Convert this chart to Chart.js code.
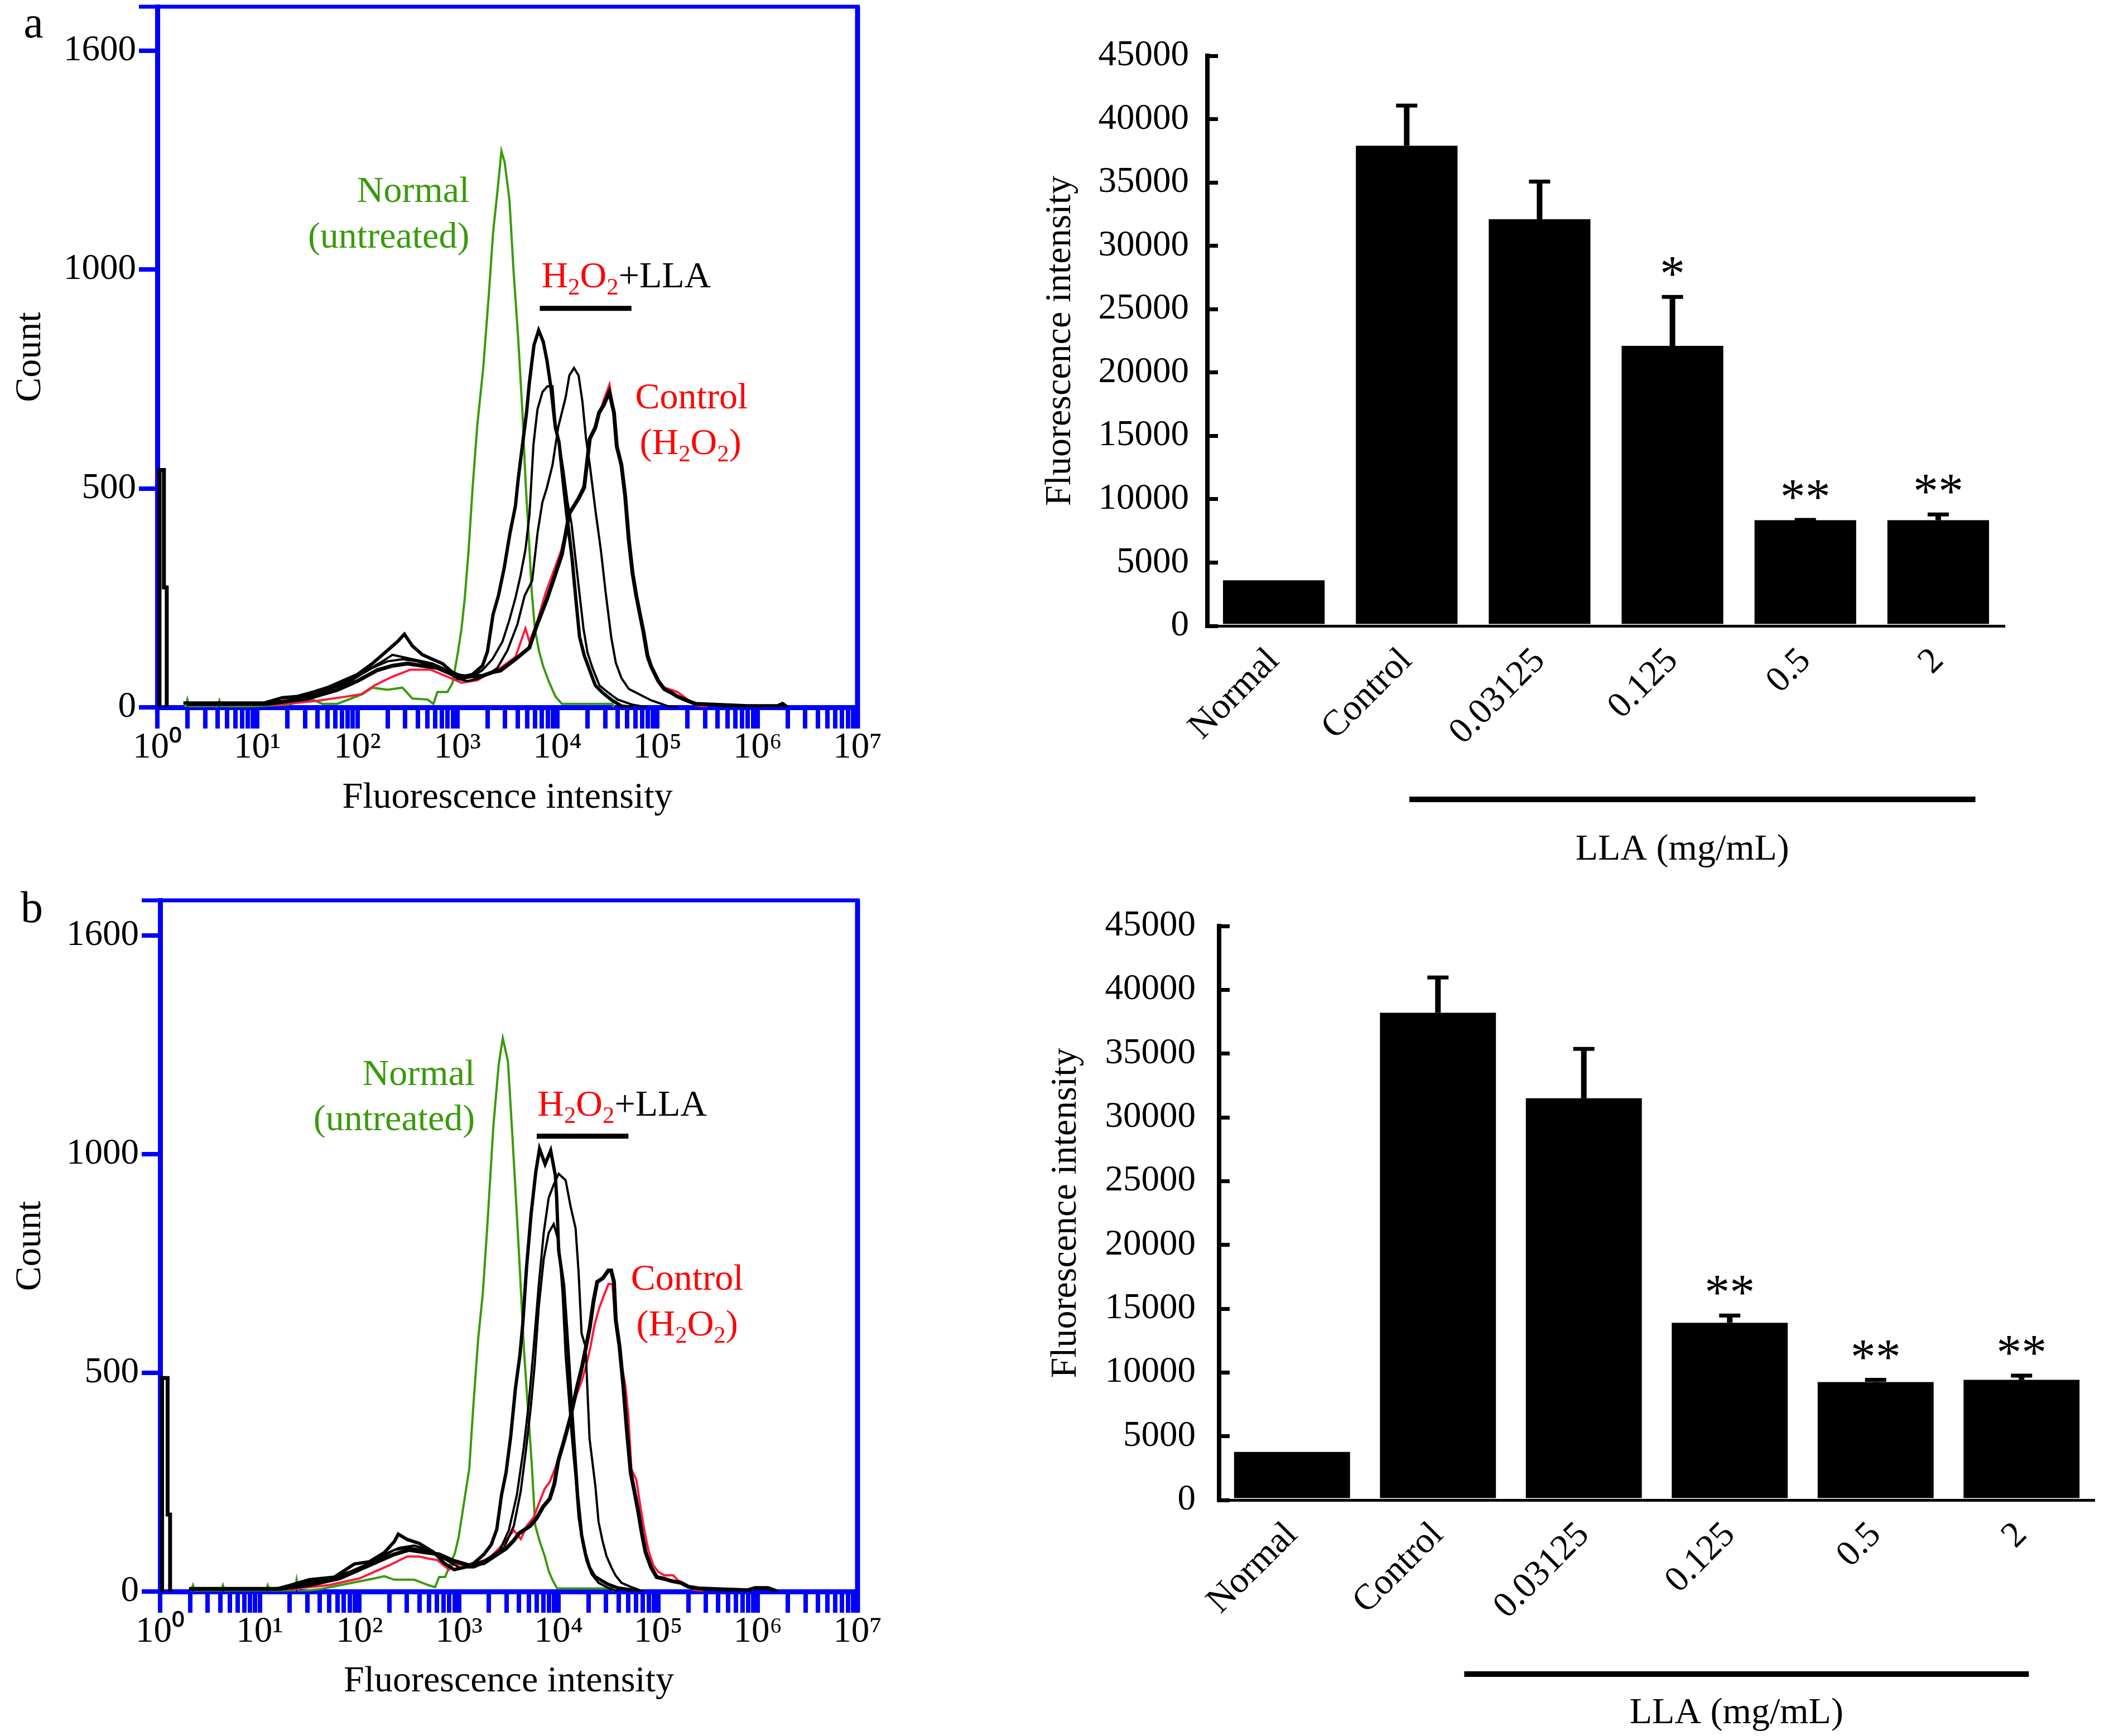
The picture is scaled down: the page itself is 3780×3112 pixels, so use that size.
<!DOCTYPE html>
<html>
<head>
<meta charset="utf-8">
<script src="https://cdn.jsdelivr.net/npm/chart.js@4.4.0/dist/chart.umd.min.js"></script>
<style>
body { margin: 0; background: #fff; width: 3780px; height: 3112px; position: relative; overflow: hidden; }
canvas { position: absolute; }
</style>
</head>
<body>
<canvas id="histA" width="1600" height="1500" style="left:0px;top:0px"></canvas>
<canvas id="barA" width="2080" height="1560" style="left:1700px;top:0px"></canvas>
<canvas id="histB" width="1600" height="1552" style="left:0px;top:1560px"></canvas>
<canvas id="barB" width="2080" height="1552" style="left:1700px;top:1560px"></canvas>
<script>
// ---- histogram axes ----
const decades = [0, 1, 2, 3, 4, 5, 6, 7];
const minorSteps = [2, 3, 4, 5, 6, 7, 8, 9];
const countTickValues = [0, 500, 1000, 1500];
const countTickLabels = ['0', '500', '1000', '1600'];

// ---- panel a histograms (x = log10 fluorescence, y = count) ----
const aSpikeLog = [0.022, 0.022, 0.066, 0.066, 0.094, 0.094];
const aSpikeCount = [0, 542, 542, 274, 274, 0];

const aNormalLog = [0.28, 0.3, 0.32, 0.6, 0.62, 0.64, 1.0, 1.3, 1.55, 1.65, 1.8, 2.05, 2.15, 2.3, 2.45, 2.55, 2.7, 2.76, 2.8, 2.9, 2.95, 3.0, 3.04, 3.074, 3.111, 3.152, 3.198, 3.258, 3.315, 3.356, 3.403, 3.44, 3.472, 3.52, 3.561, 3.607, 3.65, 3.682, 3.715, 3.743, 3.775, 3.817, 3.858, 3.914, 3.979, 4.044, 4.55, 4.56];
const aNormalCount = [0, 18, 0, 0, 15, 0, 3, 6, 18, 8, 8, 30, 45, 40, 45, 20, 18, 8, 35, 35, 55, 119, 178, 251, 357, 502, 643, 775, 946, 1083, 1185, 1270, 1245, 1159, 997, 844, 673, 511, 383, 264, 178, 127, 93, 59, 25, 8, 8, 0];

const aLla1Log = [0.26, 1.07, 1.25, 1.4, 1.56, 1.7, 1.85, 2.0, 2.15, 2.3, 2.4, 2.47, 2.55, 2.65, 2.75, 2.85, 2.95, 3.05, 3.15, 3.25, 3.30, 3.356, 3.41, 3.468, 3.524, 3.58, 3.607, 3.644, 3.691, 3.719, 3.765, 3.812, 3.858, 3.895, 3.933, 3.979, 4.016, 4.063, 4.1, 4.146, 4.184, 4.221, 4.267, 4.323, 4.379, 4.453, 4.546, 4.64, 4.75];
const aLla1Count = [10, 10, 22, 25, 35, 45, 60, 75, 100, 130, 150, 167, 140, 120, 110, 100, 80, 70, 75, 95, 127, 212, 255, 319, 396, 460, 520, 588, 673, 741, 827, 861, 835, 792, 733, 639, 605, 502, 426, 340, 247, 161, 119, 84, 50, 33, 16, 3, 0];

const aLla2Log = [0.3, 1.1, 1.4, 1.7, 1.9, 2.1, 2.25, 2.35, 2.45, 2.55, 2.65, 2.75, 2.85, 2.95, 3.05, 3.15, 3.25, 3.35, 3.45, 3.52, 3.58, 3.63, 3.68, 3.72, 3.76, 3.80, 3.85, 3.90, 3.95, 3.98, 4.02, 4.06, 4.1, 4.14, 4.18, 4.22, 4.26, 4.30, 4.35, 4.42, 4.50, 4.60, 4.75, 4.9];
const aLla2Count = [8, 8, 20, 40, 55, 85, 105, 120, 115, 110, 105, 100, 90, 75, 65, 70, 85, 110, 150, 200, 250, 300, 360, 440, 600, 680, 720, 733, 733, 650, 600, 540, 470, 420, 340, 260, 180, 125, 90, 50, 35, 18, 6, 0];

const aLla3Log = [0.3, 1.2, 1.5, 1.8, 2.0, 2.15, 2.3, 2.45, 2.6, 2.75, 2.9, 3.0, 3.1, 3.2, 3.3, 3.4, 3.5, 3.6, 3.672, 3.747, 3.802, 3.849, 3.895, 3.951, 4.007, 4.081, 4.119, 4.165, 4.211, 4.249, 4.286, 4.323, 4.379, 4.435, 4.481, 4.537, 4.583, 4.639, 4.713, 4.825, 4.937, 5.1, 5.2];
const aLla3Count = [10, 10, 25, 50, 70, 90, 105, 110, 105, 95, 80, 65, 60, 65, 75, 90, 130, 190, 255, 289, 400, 468, 502, 554, 639, 707, 758, 775, 758, 699, 613, 554, 451, 357, 264, 161, 102, 67, 42, 29, 16, 3, 0];

const aLla4Log = [0.3, 1.1, 1.5, 1.8, 2.0, 2.2, 2.35, 2.5, 2.65, 2.8, 2.95, 3.1, 3.25, 3.35, 3.431, 3.579, 3.719, 3.793, 3.895, 3.97, 4.044, 4.119, 4.211, 4.267, 4.323, 4.379, 4.416, 4.462, 4.518, 4.565, 4.593, 4.639, 4.676, 4.713, 4.751, 4.788, 4.825, 4.862, 4.899, 4.937, 4.974, 5.011, 5.067, 5.141, 5.197, 5.29, 5.383, 5.9, 6.2, 6.25, 6.3];
const aLla4Count = [8, 8, 20, 40, 60, 85, 95, 100, 95, 90, 75, 70, 72, 80, 84, 110, 136, 187, 247, 298, 349, 443, 477, 502, 613, 639, 673, 690, 720, 673, 596, 554, 485, 383, 306, 255, 212, 170, 119, 93, 76, 59, 42, 33, 25, 16, 8, 3, 3, 8, 0];

const aControlLog = [0.3, 1.2, 1.6, 1.9, 2.04, 2.17, 2.35, 2.53, 2.73, 2.9, 3.04, 3.2, 3.3, 3.43, 3.58, 3.68, 3.72, 3.79, 3.88, 3.96, 4.04, 4.12, 4.21, 4.27, 4.32, 4.38, 4.42, 4.46, 4.52, 4.56, 4.59, 4.64, 4.68, 4.71, 4.75, 4.79, 4.83, 4.86, 4.9, 4.94, 4.97, 5.01, 5.07, 5.14, 5.2, 5.29, 5.38, 5.5];
const aControlCount = [6, 6, 15, 25, 30, 50, 70, 86, 86, 70, 56, 62, 75, 90, 115, 180, 150, 190, 260, 310, 360, 440, 480, 510, 610, 645, 670, 700, 737, 680, 600, 555, 480, 390, 300, 250, 205, 160, 110, 90, 75, 60, 45, 40, 35, 20, 5, 0];

// ---- panel b histograms ----
const bSpikeLog = [0.02, 0.02, 0.075, 0.075, 0.1, 0.1];
const bSpikeCount = [0, 488, 488, 176, 176, 0];

const bNormalLog = [0.31, 0.33, 0.35, 0.61, 0.63, 0.65, 1.06, 1.08, 1.1, 1.35, 1.37, 1.39, 1.6, 2.15, 2.25, 2.35, 2.55, 2.7, 2.76, 2.8, 2.86, 2.96, 2.996, 3.056, 3.103, 3.14, 3.192, 3.239, 3.286, 3.345, 3.398, 3.439, 3.491, 3.532, 3.569, 3.607, 3.65, 3.691, 3.728, 3.765, 3.808, 3.86, 3.901, 3.943, 3.985, 4.536, 4.55];
const bNormalCount = [0, 14, 0, 0, 14, 0, 0, 14, 0, 0, 27, 0, 5, 30, 35, 27, 27, 14, 10, 33, 33, 89, 124, 212, 281, 412, 577, 682, 843, 1065, 1204, 1265, 1212, 1056, 908, 751, 560, 420, 299, 151, 116, 81, 46, 24, 7, 7, 0];

const bLla1Log = [0.29, 1.17, 1.3, 1.5, 1.75, 1.95, 2.1, 2.25, 2.35, 2.39, 2.48, 2.6, 2.75, 2.85, 2.95, 3.05, 3.15, 3.25, 3.323, 3.379, 3.426, 3.472, 3.519, 3.566, 3.612, 3.64, 3.678, 3.724, 3.771, 3.808, 3.864, 3.92, 3.967, 3.98, 4.0, 4.05, 4.08, 4.1, 4.13, 4.16, 4.19, 4.23, 4.27, 4.31, 4.36, 4.43, 4.5, 4.6, 4.75, 4.85];
const bLla1Count = [6, 6, 14, 27, 33, 63, 68, 89, 114, 131, 119, 110, 89, 65, 50, 55, 65, 85, 107, 142, 220, 272, 355, 464, 542, 612, 742, 864, 960, 1012, 977, 1008, 951, 900, 780, 700, 600, 530, 420, 320, 220, 130, 85, 55, 35, 25, 16, 8, 3, 0];

const bLla2Log = [0.3, 1.2, 1.45, 1.7, 1.9, 2.1, 2.25, 2.4, 2.55, 2.7, 2.85, 3.0, 3.15, 3.3, 3.4, 3.5, 3.58, 3.65, 3.7, 3.75, 3.8, 3.85, 3.9, 3.95, 4.0, 4.07, 4.12, 4.17, 4.2, 4.23, 4.27, 4.29, 4.31, 4.37, 4.4, 4.44, 4.48, 4.53, 4.57, 4.63, 4.72, 4.85];
const bLla2Count = [6, 6, 20, 30, 45, 65, 85, 100, 105, 95, 75, 55, 55, 70, 90, 140, 220, 330, 430, 560, 700, 820, 900, 930, 955, 940, 880, 830, 730, 590, 560, 455, 350, 238, 160, 116, 81, 55, 37, 20, 11, 0];

const bLla3Log = [0.3, 1.25, 1.5, 1.8, 2.0, 2.2, 2.35, 2.5, 2.65, 2.8, 2.95, 3.1, 3.25, 3.35, 3.45, 3.55, 3.62, 3.67, 3.72, 3.76, 3.8, 3.85, 3.9, 3.95, 4.0, 4.04, 4.07, 4.1, 4.13, 4.17, 4.2, 4.24, 4.28, 4.33, 4.4, 4.5, 4.6];
const bLla3Count = [6, 6, 15, 30, 50, 75, 95, 100, 95, 85, 70, 60, 70, 85, 100, 150, 230, 320, 420, 520, 650, 760, 820, 840, 800, 680, 540, 450, 360, 260, 170, 110, 70, 40, 20, 8, 0];

const bLla4Log = [0.3, 1.2, 1.5, 1.8, 2.0, 2.2, 2.35, 2.5, 2.65, 2.8, 2.95, 3.1, 3.25, 3.35, 3.472, 3.547, 3.603, 3.715, 3.78, 3.845, 3.911, 3.957, 3.995, 4.051, 4.12, 4.181, 4.237, 4.312, 4.35, 4.387, 4.443, 4.499, 4.527, 4.555, 4.573, 4.611, 4.648, 4.685, 4.723, 4.76, 4.797, 4.835, 4.872, 4.928, 4.984, 5.059, 5.133, 5.227, 5.301, 5.41, 5.9, 5.97, 6.1, 6.2];
const bLla4Count = [6, 6, 15, 30, 50, 70, 85, 95, 90, 85, 70, 60, 65, 80, 98, 116, 133, 150, 168, 194, 212, 246, 298, 342, 400, 464, 516, 603, 664, 708, 716, 734, 734, 708, 621, 560, 473, 368, 272, 229, 185, 133, 90, 55, 33, 29, 24, 20, 11, 7, 3, 8, 8, 0];

const bControlLog = [0.3, 1.3, 1.7, 2.0, 2.3, 2.48, 2.6, 2.7, 2.78, 2.9, 2.94, 3.1, 3.3, 3.45, 3.55, 3.62, 3.68, 3.75, 3.8, 3.86, 3.91, 3.97, 4.02, 4.07, 4.12, 4.18, 4.23, 4.28, 4.32, 4.36, 4.41, 4.46, 4.5, 4.54, 4.56, 4.59, 4.63, 4.67, 4.7, 4.73, 4.78, 4.82, 4.86, 4.9, 4.95, 5.0, 5.06, 5.15, 5.2, 5.28, 5.35, 5.45];
const bControlCount = [5, 5, 15, 30, 60, 80, 80, 75, 72, 50, 63, 60, 75, 110, 140, 120, 150, 170, 200, 235, 250, 285, 315, 350, 400, 450, 480, 520, 560, 610, 650, 680, 703, 703, 640, 590, 520, 470, 400, 280, 255, 195, 140, 95, 60, 45, 37, 37, 25, 16, 5, 0];

// ---- bar charts ----
const barCategories = ['Normal', 'Control', '0.03125', '0.125', '0.5', '2'];
const aBarMean = [3600, 37900, 32100, 22100, 8340, 8340];
const aBarSD = [0, 3300, 3100, 4000, 160, 590];
const aMarks = ['', '', '', '*', '**', '**'];
const bBarMean = [3770, 38200, 31500, 13900, 9250, 9420];
const bBarSD = [0, 2900, 4000, 700, 300, 460];
const bMarks = ['', '', '', '**', '**', '**'];

const SERIF = "'Liberation Serif', 'Times New Roman', serif";
const BLUE = '#0000ff';
const GREEN = '#3a9a0b';
const RED = '#ff0000';
const SUP = {'0': '\u2070', '1': '\u00b9', '2': '\u00b2', '3': '\u00b3', '4': '\u2074', '5': '\u2075', '6': '\u2076', '7': '\u2077'};

function curve(logs, counts, color, width) {
    return {
        data: logs.map((l, i) => ({x: Math.pow(10, l), y: counts[i]})),
        borderColor: color, borderWidth: width, pointRadius: 0, fill: false, tension: 0
    };
}

// text runs: [text, color, isSubscript]
function drawRuns(ctx, runs, x, y, align, size) {
    let w = 0;
    runs.forEach(r => { ctx.font = (r[2] ? size * 0.65 : size) + 'px ' + SERIF; w += ctx.measureText(r[0]).width; });
    let cx = align === 'right' ? x - w : align === 'center' ? x - w / 2 : x;
    ctx.textAlign = 'left';
    ctx.textBaseline = 'alphabetic';
    const base = y + size * 0.33;
    runs.forEach(r => {
        ctx.font = (r[2] ? size * 0.65 : size) + 'px ' + SERIF;
        ctx.fillStyle = r[1];
        ctx.fillText(r[0], cx, r[2] ? base + size * 0.2 : base);
        cx += ctx.measureText(r[0]).width;
    });
}

const histDecor = {
    id: 'histDecor',
    afterDraw(chart, args, opts) {
        const {ctx, chartArea: a, scales: {x, y}} = chart;
        ctx.save();
        ctx.strokeStyle = BLUE;
        ctx.lineCap = 'butt';
        ctx.lineWidth = 7;
        ctx.beginPath(); ctx.moveTo(a.left - 33, a.top); ctx.lineTo(a.right + 4, a.top); ctx.stroke();
        ctx.lineWidth = 9;
        ctx.beginPath(); ctx.moveTo(a.right, a.top); ctx.lineTo(a.right, a.bottom + 38); ctx.stroke();
        opts.labels.forEach(l => drawRuns(ctx, l.runs, x.getPixelForValue(Math.pow(10, l.at[0])), y.getPixelForValue(l.at[1]), l.align, 66));
        const b = opts.bar;
        ctx.strokeStyle = '#000';
        ctx.lineWidth = 9;
        ctx.beginPath();
        ctx.moveTo(x.getPixelForValue(Math.pow(10, b[0])), y.getPixelForValue(b[2]));
        ctx.lineTo(x.getPixelForValue(Math.pow(10, b[1])), y.getPixelForValue(b[2]));
        ctx.stroke();
        ctx.fillStyle = '#000';
        ctx.font = '80px ' + SERIF;
        ctx.textAlign = 'center';
        ctx.textBaseline = 'alphabetic';
        ctx.fillText(opts.letter[0], opts.letter[1], opts.letter[2]);
        ctx.restore();
    }
};

function histChart(id, sets, yMax, pad, yWidth, xHeight, titlePad, decor) {
    const xTicks = [];
    decades.forEach(e => {
        xTicks.push(Math.pow(10, e));
        if (e < 7) minorSteps.forEach(k => xTicks.push(k * Math.pow(10, e)));
    });
    return new Chart(document.getElementById(id), {
        type: 'line',
        data: {datasets: sets},
        options: {
            responsive: false, animation: false, devicePixelRatio: 1,
            layout: {padding: pad},
            plugins: {legend: {display: false}, tooltip: {enabled: false}, histDecor: decor},
            scales: {
                x: {
                    type: 'logarithmic', min: 1, max: 1e7, z: 1,
                    afterBuildTicks: s => { s.ticks = xTicks.map(v => ({value: v})); },
                    afterFit: s => { s.height = xHeight; s.paddingLeft = 0; s.paddingRight = 0; },
                    ticks: {
                        autoSkip: false, maxRotation: 0, color: '#000', padding: 2,
                        font: {family: SERIF, size: 65, lineHeight: 1},
                        callback: v => {
                            const e = Math.log10(v);
                            return Math.abs(e - Math.round(e)) < 1e-6 ? '10' + SUP[String(Math.round(e))] : '';
                        }
                    },
                    grid: {drawOnChartArea: false, drawTicks: true, tickLength: 38, color: BLUE, lineWidth: 8},
                    border: {color: BLUE, width: 9},
                    title: {display: true, text: 'Fluorescence intensity', color: '#000', font: {family: SERIF, size: 66}, padding: {top: 0, bottom: titlePad}}
                },
                y: {
                    min: 0, max: yMax, z: 1,
                    afterBuildTicks: s => { s.ticks = countTickValues.map(v => ({value: v})); },
                    afterFit: s => { s.width = yWidth; s.paddingTop = 0; s.paddingBottom = 0; },
                    ticks: {color: '#000', padding: 5, font: {family: SERIF, size: 65}, callback: (v, i) => countTickLabels[i]},
                    grid: {drawOnChartArea: false, drawTicks: true, tickLength: 33, color: BLUE, lineWidth: 8},
                    border: {color: BLUE, width: 9},
                    title: {display: true, text: 'Count', color: '#000', font: {family: SERIF, size: 66}, padding: {top: 15, bottom: 0}}
                }
            }
        },
        plugins: [histDecor]
    });
}

const barDecor = {
    id: 'barDecor',
    afterDatasetsDraw(chart, args, opts) {
        const {ctx, chartArea: a, scales: {x, y}} = chart;
        const meta = chart.getDatasetMeta(0);
        ctx.save();
        ctx.strokeStyle = '#000';
        ctx.fillStyle = '#000';
        opts.mean.forEach((m, i) => {
            const bx = meta.data[i].x;
            const top = y.getPixelForValue(m + opts.sd[i]);
            if (opts.sd[i] > 0) {
                ctx.lineWidth = 10;
                ctx.beginPath(); ctx.moveTo(bx, y.getPixelForValue(m)); ctx.lineTo(bx, top); ctx.stroke();
                ctx.lineWidth = 7;
                ctx.beginPath(); ctx.moveTo(bx - 19, top + 3); ctx.lineTo(bx + 19, top + 3); ctx.stroke();
            }
            if (opts.marks[i]) {
                ctx.font = '90px ' + SERIF;
                ctx.textAlign = 'center';
                ctx.textBaseline = 'alphabetic';
                ctx.fillText(opts.marks[i], bx, top - 53 + 45);
            }
        });
        const cw = (x.right - x.left) / barCategories.length;
        const x1 = x.getPixelForValue(1) + opts.from * cw;
        const x2 = x.getPixelForValue(5) + opts.to * cw;
        const ly = a.bottom + opts.lineDy;
        ctx.lineWidth = 10;
        ctx.beginPath(); ctx.moveTo(x1, ly); ctx.lineTo(x2, ly); ctx.stroke();
        ctx.font = '66px ' + SERIF;
        ctx.textAlign = 'center';
        ctx.textBaseline = 'middle';
        ctx.fillText('LLA (mg/mL)', (x1 + x2) / 2 - 18, ly + opts.textDy);
        ctx.restore();
    }
};

function barChart(id, mean, sd, marks, pad, yWidth, xHeight, barPct, labelPad, titlePad, decor) {
    return new Chart(document.getElementById(id), {
        type: 'bar',
        data: {labels: barCategories, datasets: [{data: mean, backgroundColor: '#000', barPercentage: barPct, categoryPercentage: 1}]},
        options: {
            responsive: false, animation: false, devicePixelRatio: 1,
            layout: {padding: pad},
            plugins: {legend: {display: false}, tooltip: {enabled: false},
                barDecor: Object.assign({mean: mean, sd: sd, marks: marks}, decor)},
            scales: {
                x: {
                    afterFit: s => { s.height = xHeight; },
                    ticks: {color: '#000', minRotation: 45, maxRotation: 45, autoSkip: false, padding: 25, font: {family: SERIF, size: 65}},
                    grid: {display: false, drawTicks: false},
                    border: {color: '#000', width: 5}
                },
                y: {
                    min: 0, max: 45000,
                    afterFit: s => { s.width = yWidth; },
                    ticks: {stepSize: 5000, color: '#000', padding: labelPad, font: {family: SERIF, size: 65}, callback: v => String(v)},
                    grid: {drawOnChartArea: false, drawTicks: true, tickLength: -19, color: '#000', lineWidth: 7},
                    border: {color: '#000', width: 8},
                    title: {display: true, text: 'Fluorescence intensity', color: '#000', font: {family: SERIF, size: 66}, padding: {top: titlePad, bottom: 0}}
                }
            }
        },
        plugins: [barDecor]
    });
}

function histSets(spL, spC, l1, c1, l2, c2, l3, c3, l4, c4, ctL, ctC, nL, nC) {
    return [
        curve(spL, spC, '#000', 7),
        curve(l1, c1, '#000', 6),
        curve(l2, c2, '#000', 4),
        curve(l3, c3, '#000', 4),
        curve(l4, c4, '#000', 7),
        curve(ctL, ctC, '#ff1a3c', 4),
        curve(nL, nC, GREEN, 4)
    ];
}

const h2o2Runs = [['H', RED], ['2', RED, true], ['O', RED], ['2', RED, true], ['+LLA', '#000']];
const ctrlRuns = [['(H', RED], ['2', RED, true], ['O', RED], ['2', RED, true], [')', RED]];

histChart('histA',
    histSets(aSpikeLog, aSpikeCount, aLla1Log, aLla1Count, aLla2Log, aLla2Count, aLla3Log, aLla3Count, aLla4Log, aLla4Count, aControlLog, aControlCount, aNormalLog, aNormalCount),
    1600, {top: 12, right: 63, left: 0, bottom: 0}, 282, 232, 30,
    {
        labels: [
            {runs: [['Normal', GREEN]], at: [3.12, 1182], align: 'right'},
            {runs: [['(untreated)', GREEN]], at: [3.12, 1078], align: 'right'},
            {runs: h2o2Runs, at: [3.84, 987], align: 'left'},
            {runs: [['Control', RED]], at: [5.34, 710], align: 'center'},
            {runs: ctrlRuns, at: [5.33, 606], align: 'center'}
        ],
        bar: [3.823, 4.74, 911],
        letter: ['a', 60, 67]
    });

histChart('histB',
    histSets(bSpikeLog, bSpikeCount, bLla1Log, bLla1Count, bLla2Log, bLla2Count, bLla3Log, bLla3Count, bLla4Log, bLla4Count, bControlLog, bControlCount, bNormalLog, bNormalCount),
    1580, {top: 54, right: 63, left: 0, bottom: 0}, 287, 259, 58,
    {
        labels: [
            {runs: [['Normal', GREEN]], at: [3.16, 1186], align: 'right'},
            {runs: [['(untreated)', GREEN]], at: [3.16, 1082], align: 'right'},
            {runs: h2o2Runs, at: [3.787, 1116], align: 'left'},
            {runs: [['Control', RED]], at: [5.29, 718], align: 'center'},
            {runs: ctrlRuns, at: [5.29, 613], align: 'center'}
        ],
        bar: [3.78, 4.70, 1041],
        letter: ['b', 57, 93]
    });

barChart('barA', aBarMean, aBarSD, aMarks, {top: 100, right: 187, left: 0, bottom: 0}, 464, 438, 0.765, 52, 161,
    {from: 0.02, to: 0.28, lineDy: 311, textDy: 91});
barChart('barB', bBarMean, bBarSD, bMarks, {top: 80, right: 26, left: 0, bottom: 0}, 485, 423, 0.795, 61, 171,
    {from: 0.18, to: 0.05, lineDy: 312, textDy: 71});
</script>
</body>
</html>
